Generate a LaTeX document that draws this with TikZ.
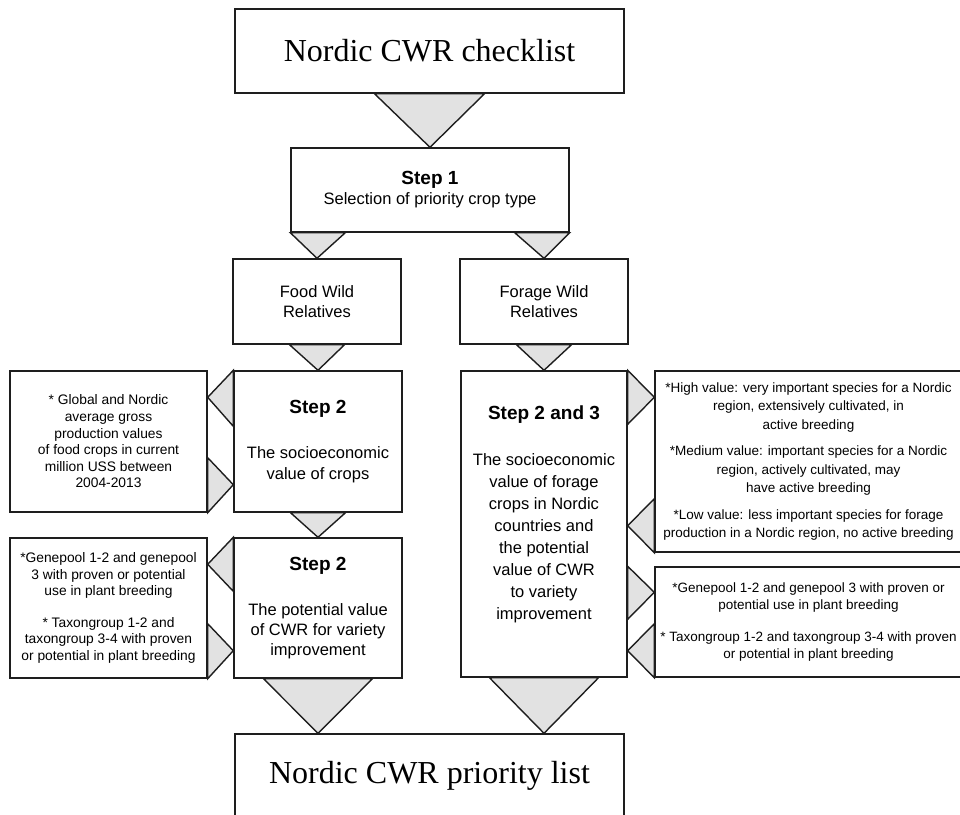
\documentclass[tikz,border=0pt]{standalone}
\usepackage{fontspec}
\setmainfont{Liberation Serif}
\setsansfont{Liberation Sans}
\usetikzlibrary{calc}
\definecolor{linec}{HTML}{1E1E1E}
\definecolor{trifill}{HTML}{E2E2E2}
\begin{document}
\begin{tikzpicture}[x=1pt,y=-1pt,
  flowbox/.style={draw=linec, line width=1.4pt, fill=white, inner sep=0pt, align=center},
  tri/.style={draw=linec, line width=1.4pt, fill=trifill, line join=miter},
  titlefont/.style={font=\fontsize{32}{36}\selectfont\rmfamily},
  stepfont/.style={font=\fontsize{16.5}{21}\selectfont\sffamily},
  notefont/.style={font=\fontsize{13.8}{16.6}\selectfont\sffamily},
  rnotefont/.style={font=\fontsize{13.5}{18.5}\selectfont\sffamily}
]
\clip (0,0) rectangle (960,814);
\fill[white] (0,0) rectangle (960,814);

% boxes
\node[flowbox, titlefont, minimum width=389pt, minimum height=84pt] (top) at (429.5,51) {Nordic CWR checklist};
\node[flowbox, stepfont, minimum width=278pt, minimum height=84pt] (step1) at (430,190)
  {{\fontsize{19}{20}\selectfont\bfseries Step 1}\\[-1pt] Selection of priority crop type};
\node[flowbox, stepfont, minimum width=168pt, minimum height=85pt] (food) at (317,301.5) {Food Wild\\[-1.5pt]Relatives};
\node[flowbox, stepfont, minimum width=168pt, minimum height=85pt] (forage) at (544,301.5) {Forage Wild\\[-1.5pt]Relatives};
\node[flowbox, stepfont, minimum width=168pt, minimum height=141pt] (s2a) at (318,441.5)
  {{\fontsize{19}{21}\selectfont\bfseries Step 2}\\[24pt] The socioeconomic\\ value of crops};
\node[flowbox, stepfont, minimum width=168pt, minimum height=140pt] (s2b) at (318,608)
  {{\fontsize{19}{21}\selectfont\bfseries Step 2}\\[24pt] The potential value\\[-1pt] of CWR for variety\\[-1pt] improvement};
\node[flowbox, minimum width=166pt, minimum height=306pt] (s23) at (544,524) {};
\node[align=center, inner sep=0pt, font=\fontsize{16.5}{22}\selectfont\sffamily] (s23text) at (544,514)
  {{\fontsize{19}{22}\selectfont\bfseries Step 2 and 3}\\[24pt] The socioeconomic\\ value of forage\\ crops in Nordic\\ countries and\\ the potential\\ value of CWR\\ to variety\\ improvement};
\node[flowbox, notefont, minimum width=197pt, minimum height=141pt] (annL1) at (108.5,441.5)
  {* Global and Nordic\\ average gross\\ production values\\ of food crops in current\\ million USS between\\ 2004-2013};
\node[flowbox, notefont, minimum width=197pt, minimum height=140pt] (annL2) at (108.5,608)
  {*Genepool 1-2 and genepool\\ 3 with proven or potential\\ use in plant breeding\\[15pt] * Taxongroup 1-2 and\\ taxongroup 3-4 with proven\\ or potential in plant breeding};
\node[flowbox, rnotefont, minimum width=307pt, minimum height=181pt] (annR1) at (808.5,461.5)
  {*High value: very important species for a Nordic\\ region, extensively cultivated, in\\ active breeding\\[8pt]
   *Medium value: important species for a Nordic\\ region, actively cultivated, may\\ have active breeding\\[8pt]
   *Low value: less important species for forage\\ production in a Nordic region, no active breeding};
\node[flowbox, font=\fontsize{13.5}{17.5}\selectfont\sffamily, minimum width=307pt, minimum height=110pt] (annR2) at (808.5,622)
  {*Genepool 1-2 and genepool 3 with proven or\\ potential use in plant breeding\\[14pt]
   * Taxongroup 1-2 and taxongroup 3-4 with proven\\ or potential in plant breeding};
\node[flowbox, titlefont, minimum width=389pt, minimum height=84pt] (bottom) at (429.5,776) {Nordic CWR priority list};

% main flow triangles
\draw[tri] ($(top.south)+(-55,0)$) -- ($(top.south)+(55,0)$) -- (step1.north) -- cycle;
\draw[tri] (step1.south west) -- ($(step1.south west)+(55,0)$) -- (food.north) -- cycle;
\draw[tri] ($(step1.south east)+(-55,0)$) -- (step1.south east) -- (forage.north) -- cycle;
\draw[tri] ($(food.south)+(-27.5,0)$) -- ($(food.south)+(27.5,0)$) -- (s2a.north) -- cycle;
\draw[tri] ($(forage.south)+(-27.5,0)$) -- ($(forage.south)+(27.5,0)$) -- (s23.north) -- cycle;
\draw[tri] ($(s2a.south)+(-27.5,0)$) -- ($(s2a.south)+(27.5,0)$) -- (s2b.north) -- cycle;
\draw[tri] ($(s2b.south)+(-54.5,0)$) -- ($(s2b.south)+(54.5,0)$) -- (s2b.south |- bottom.north) -- cycle;
\draw[tri] ($(s23.south)+(-54.5,0)$) -- ($(s23.south)+(54.5,0)$) -- (s23.south |- bottom.north) -- cycle;

% side triangles, left
\draw[tri] (s2a.north west) -- ($(s2a.north west)+(0,56)$) -- ($(annL1.north east)+(0,27)$) -- cycle;
\draw[tri] (annL1.south east) -- ($(annL1.south east)+(0,-55)$) -- ($(s2a.south west)+(0,-28)$) -- cycle;
\draw[tri] (s2b.north west) -- ($(s2b.north west)+(0,54)$) -- ($(annL2.north east)+(0,27)$) -- cycle;
\draw[tri] (annL2.south east) -- ($(annL2.south east)+(0,-55)$) -- ($(s2b.south west)+(0,-28)$) -- cycle;

% side triangles, right
\coordinate (r1low) at ($(annR1.south west)+(0,-27)$);
\coordinate (r2top) at (s23.east |- annR2.north);
\coordinate (r2low) at ($(annR2.south west)+(0,-27)$);
\draw[tri] (s23.north east) -- ($(s23.north east)+(0,54)$) -- ($(annR1.north west)+(0,27)$) -- cycle;
\draw[tri] (annR1.south west) -- ($(annR1.south west)+(0,-54)$) -- (s23.east |- r1low) -- cycle;
\draw[tri] (r2top) -- ($(r2top)+(0,53)$) -- ($(annR2.north west)+(0,26)$) -- cycle;
\draw[tri] (annR2.south west) -- ($(annR2.south west)+(0,-54)$) -- (s23.east |- r2low) -- cycle;
\end{tikzpicture}
\end{document}
